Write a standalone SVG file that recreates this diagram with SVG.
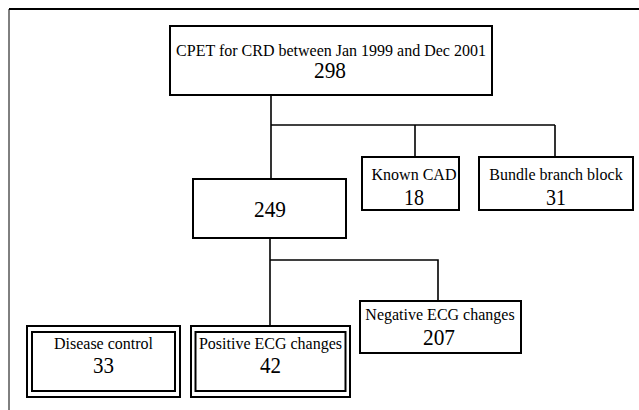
<svg xmlns="http://www.w3.org/2000/svg" width="639" height="410" viewBox="0 0 639 410">
<style>
.box{fill:#fff;stroke:#000;stroke-width:2}
.in{fill:none;stroke:#000;stroke-width:2}
.ln{fill:none;stroke:#000;stroke-width:1.6}
text{font-family:"Liberation Serif","Times New Roman",serif;fill:#000;text-anchor:middle}
.t{font-size:16px}
.n{font-size:24px}
</style>
<rect width="639" height="410" fill="#fff"/>
<g id="frame">
<line x1="9" y1="9" x2="639" y2="9" stroke="#000" stroke-width="2"/>
<line x1="9" y1="9" x2="9" y2="410" stroke="#000" stroke-width="1"/>
</g>
<g id="connectors">
<polyline class="ln" points="271,95 271,179"/>
<polyline class="ln" points="271,125 555,125"/>
<polyline class="ln" points="415,125 415,157"/>
<polyline class="ln" points="555,125 555,157"/>
<polyline class="ln" points="270,238 270,326"/>
<polyline class="ln" points="270,260 438,260 438,301"/>
</g>
<g id="n298">
<rect class="box" x="170" y="26" width="322" height="69"/>
<text class="t" x="331" y="56">CPET for CRD between Jan 1999 and Dec 2001</text>
<text class="n" x="330" y="78" textLength="32" lengthAdjust="spacingAndGlyphs">298</text>
</g>
<g id="n18">
<rect class="box" x="362" y="157" width="97" height="53"/>
<text class="t" x="414" y="180">Known CAD</text>
<text class="n" x="414" y="205" textLength="20" lengthAdjust="spacingAndGlyphs">18</text>
</g>
<g id="n31">
<rect class="box" x="479" y="157" width="154" height="53"/>
<text class="t" x="556" y="180">Bundle branch block</text>
<text class="n" x="556" y="205" textLength="20" lengthAdjust="spacingAndGlyphs">31</text>
</g>
<g id="n249">
<rect class="box" x="193" y="179" width="153" height="59"/>
<text class="n" x="270" y="217" textLength="32" lengthAdjust="spacingAndGlyphs">249</text>
</g>
<g id="n207">
<rect class="box" x="360" y="301" width="161" height="52"/>
<text class="t" x="440" y="320">Negative ECG changes</text>
<text class="n" x="439" y="345" textLength="32" lengthAdjust="spacingAndGlyphs">207</text>
</g>
<g id="n33">
<rect class="box" x="27" y="326" width="153" height="71"/>
<rect class="in" x="32" y="332" width="143" height="59"/>
<text class="t" x="103.5" y="349">Disease control</text>
<text class="n" x="103.5" y="373" textLength="21" lengthAdjust="spacingAndGlyphs">33</text>
</g>
<g id="n42">
<rect class="box" x="191" y="326" width="159" height="71"/>
<rect class="in" x="195.5" y="332" width="150" height="59"/>
<text class="t" x="270.5" y="349">Positive ECG changes</text>
<text class="n" x="270.5" y="373" textLength="21" lengthAdjust="spacingAndGlyphs">42</text>
</g>
</svg>
